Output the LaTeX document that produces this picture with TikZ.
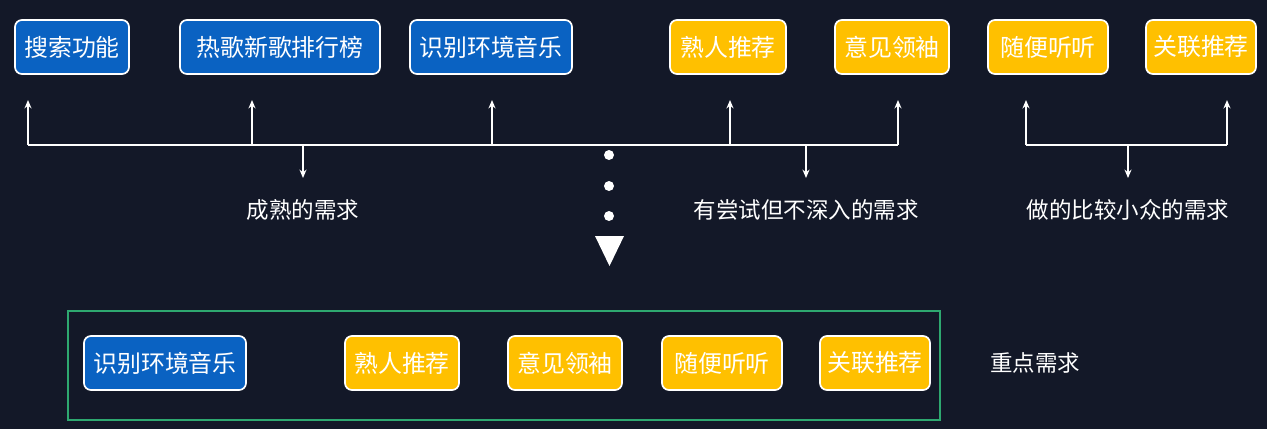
\documentclass[tikz,border=0pt]{standalone}
\usepackage{fontspec}
\setmainfont{Noto Sans CJK SC}
\usetikzlibrary{arrows.meta}
\definecolor{bg}{HTML}{131828}
\definecolor{bl}{HTML}{0A62C2}
\definecolor{yl}{HTML}{FFC000}
\definecolor{gr}{HTML}{2EA870}
\tikzset{
 bx/.style={draw=white,line width=1.2pt,rounded corners=5pt,text=white,font=\fontsize{17}{17}\selectfont,minimum height=1.35cm,inner xsep=3pt},
 bb/.style={bx,fill=bl},
 yb/.style={bx,fill=yl},
 lab/.style={text=white,font=\fontsize{16}{16}\selectfont},
 ln/.style={draw=white,line width=1.3pt},
 ar/.style={ln,-{Stealth[length=6pt,width=5pt]}}
}
\begin{document}
\begin{tikzpicture}[x=0.025cm,y=-0.025cm]
\fill[bg] (0,0) rectangle (1267,429);
\useasboundingbox (0,0) rectangle (1267,429);
\node[bb,minimum width=2.85cm] (a1) at (72,47) {搜索功能};
\node[bb,minimum width=5cm] (a2) at (280,47) {热歌新歌排行榜};
\node[bb,minimum width=4.05cm] (a3) at (491,47) {识别环境音乐};
\node[yb,minimum width=2.9cm] (a4) at (728,47) {熟人推荐};
\node[yb,minimum width=2.85cm] (a5) at (892,47) {意见领袖};
\node[yb,minimum width=3cm] (a6) at (1048,47) {随便听听};
\node[yb,minimum width=2.75cm] (a7) at (1201,47) {关联推荐};
% bracket 1
\coordinate (l1) at (28,145); \coordinate (r1) at (898,145);
\draw[ln] (l1) -- (r1);
\foreach \x/\n in {28/u1,252/u2,492/u3,730/u4,898/u5}{
 \coordinate (\n a) at (\x,145); \coordinate (\n b) at (\x,100);
 \draw[ar] (\n a) -- (\n b);}
\coordinate (d1a) at (303,145); \coordinate (d1b) at (303,178);
\draw[ar] (d1a) -- (d1b);
\coordinate (d2a) at (806,145); \coordinate (d2b) at (806,178);
\draw[ar] (d2a) -- (d2b);
\node[lab] (t1) at (303,210) {成熟的需求};
\node[lab] (t2) at (806,210) {有尝试但不深入的需求};
% bracket 2
\coordinate (l2) at (1026,145); \coordinate (r2) at (1227,145);
\draw[ln] (l2) -- (r2);
\coordinate (v1) at (1026,100); \coordinate (v2) at (1227,100);
\draw[ar] (l2) -- (v1); \draw[ar] (r2) -- (v2);
\coordinate (d3a) at (1128,145); \coordinate (d3b) at (1128,178);
\draw[ar] (d3a) -- (d3b);
\node[lab] (t3) at (1128,210) {做的比较小众的需求};
% dots and triangle
\foreach \y in {155,186,216} \fill[white] (609,\y) circle (5);
\fill[white] (595,236) -- (624,236) -- (609.5,266) -- cycle;
% bottom
\node[draw=gr,line width=1.5pt,minimum width=21.8cm,minimum height=2.72cm] (g) at (504,365.5) {};
\node[bb,minimum width=4.05cm] (b1) at (165,363) {识别环境音乐};
\node[yb,minimum width=2.85cm] (b2) at (402,363) {熟人推荐};
\node[yb,minimum width=2.85cm] (b3) at (565,363) {意见领袖};
\node[yb,minimum width=3cm] (b4) at (722,363) {随便听听};
\node[yb,minimum width=2.75cm] (b5) at (875,363) {关联推荐};
\node[lab] (t4) at (1035,363) {重点需求};
\end{tikzpicture}
\end{document}
